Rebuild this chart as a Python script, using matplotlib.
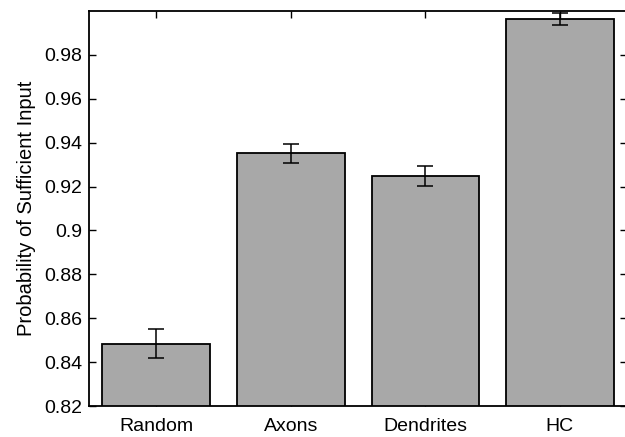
import matplotlib
matplotlib.use("Agg")
import matplotlib.pyplot as plt

categories = ["Random", "Axons", "Dendrites", "HC"]
values = [0.8483, 0.9351, 0.9248, 0.9965]
errors = [0.0066, 0.0045, 0.0047, 0.0027]
yticks = [0.82, 0.84, 0.86, 0.88, 0.9, 0.92, 0.94, 0.96, 0.98]
ytick_labels = ["0.82", "0.84", "0.86", "0.88", "0.9", "0.92", "0.94", "0.96", "0.98"]

plt.rcParams['font.family'] = ['Liberation Sans', 'DejaVu Sans']

fig = plt.figure(figsize=(6.25, 4.37), dpi=100)
ax = fig.add_axes([0.1424, 0.0709, 0.861, 0.904])

x = list(range(1, len(categories) + 1))
ax.bar(x, values, width=0.8, color="#a8a8a8", edgecolor="black", linewidth=1.3, zorder=2)
ax.errorbar(x, values, yerr=errors, fmt="none", ecolor="black", elinewidth=1.1,
            capsize=5.5, capthick=1.1, zorder=3)

ax.set_xlim(0.5, 4.5)
ax.set_ylim(0.82, 1.0)
ax.set_xticks(x)
ax.set_xticklabels(categories, fontsize=14)
ax.set_yticks(yticks)
ax.set_yticklabels(ytick_labels, fontsize=14)
ax.set_ylabel("Probability of Sufficient Input", fontsize=14.5, labelpad=6)
ax.tick_params(direction="in", top=True, right=True, length=5, width=1, pad=5)
ax.tick_params(axis="x", pad=8.5)
for s in ax.spines.values():
    s.set_linewidth(1.3)

fig.savefig("out.png", dpi=100)
